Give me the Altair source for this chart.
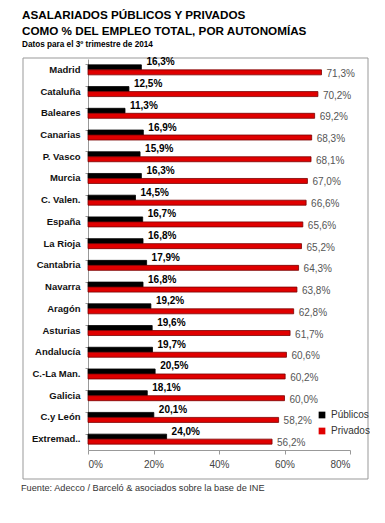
import altair as alt
import pandas as pd

regiones = ["Madrid", "Cataluña", "Baleares", "Canarias", "P. Vasco", "Murcia",
            "C. Valen.", "España", "La Rioja", "Cantabria", "Navarra", "Aragón",
            "Asturias", "Andalucía", "C.-La Man.", "Galicia", "C.y León", "Extremad.."]
publicos = [16.3, 12.5, 11.3, 16.9, 15.9, 16.3, 14.5, 16.7, 16.8, 17.9, 16.8, 19.2,
            19.6, 19.7, 20.5, 18.1, 20.1, 24.0]
privados = [71.3, 70.2, 69.2, 68.3, 68.1, 67.0, 66.6, 65.6, 65.2, 64.3, 63.8, 62.8,
            61.7, 60.6, 60.2, 60.0, 58.2, 56.2]
series = ["Públicos", "Privados"]
x_ticks = [0, 20, 40, 60, 80]

titulo = ["ASALARIADOS PÚBLICOS Y PRIVADOS", "COMO % DEL EMPLEO TOTAL, POR AUTONOMÍAS"]
subtitulo = "Datos para el 3º trimestre de 2014"
fuente = "Fuente: Adecco / Barceló & asociados sobre la base de INE"


def fmt(v):
    return f"{v:.1f}".replace(".", ",") + "%"


rows = []
for r, p, q in zip(regiones, publicos, privados):
    rows.append({"region": r, "serie": "Públicos", "valor": p, "label": fmt(p)})
    rows.append({"region": r, "serie": "Privados", "valor": q, "label": fmt(q)})
df = pd.DataFrame(rows)

FONT = "Liberation Sans"

x_enc = alt.X("valor:Q", scale=alt.Scale(domain=[0, 80]),
              axis=alt.Axis(values=x_ticks, labelExpr="datum.value + '%'", grid=False, title=None,
                            labelFont=FONT, labelFontSize=10, labelColor="#444",
                            domainColor="#999", tickColor="#999", tickSize=4, labelPadding=5))
y_enc = alt.Y("region:N", sort=regiones, title=None,
              scale=alt.Scale(paddingInner=0.54, paddingOuter=0.27),
              axis=alt.Axis(labelFont=FONT, labelFontWeight="bold", labelFontSize=9.5,
                            labelColor="#111", labelPadding=5, domainColor="#999",
                            tickColor="#999", tickSize=3, bandPosition=0))

base = alt.Chart(df)

bars = base.mark_bar(strokeWidth=0.8).encode(
    x=x_enc,
    y=y_enc,
    yOffset=alt.YOffset("serie:N", sort=series, scale=alt.Scale(paddingInner=0, paddingOuter=0)),
    color=alt.Color("serie:N", scale=alt.Scale(domain=series, range=["#000000", "#e00000"]),
                    legend=alt.Legend(title=None, orient="none", legendX=229, legendY=351,
                                      symbolType="square", symbolSize=45, labelFont=FONT,
                                      labelFontSize=10, labelColor="#333", rowPadding=6,
                                      symbolStrokeWidth=0)),
    stroke=alt.Stroke("serie:N", scale=alt.Scale(domain=series, range=["#000000", "#7a0000"]),
                      legend=None),
)

pub_text = base.transform_filter(alt.datum.serie == "Públicos").mark_text(
    align="left", baseline="middle", dx=5, dy=-7.5, font=FONT, fontSize=10,
    fontWeight="bold", color="#000"
).encode(x="valor:Q", y=alt.Y("region:N", sort=regiones), text="label:N")

priv_text = base.transform_filter(alt.datum.serie == "Privados").mark_text(
    align="left", baseline="middle", dx=5, dy=4, font=FONT, fontSize=10, color="#555"
).encode(x="valor:Q", y=alt.Y("region:N", sort=regiones), text="label:N")

box = alt.Chart(pd.DataFrame({"k": [0]})).mark_rect(
    fill=None, stroke="#999", strokeWidth=1
).encode(x=alt.value(-65), x2=alt.value(280), y=alt.value(-1), y2=alt.value(420))

foot = alt.Chart(pd.DataFrame({"t": [fuente]})).mark_text(
    align="left", baseline="middle", font=FONT, fontSize=9.2, color="#333"
).encode(x=alt.value(-67), y=alt.value(429), text="t:N")

chart = alt.layer(box, bars, pub_text, priv_text, foot).properties(
    width=262, height=391,
    autosize=alt.AutoSizeParams(type="none"),
    padding={"left": 80, "top": 51, "right": 20, "bottom": 50},
    title=alt.Title(titulo, subtitle=subtitulo, anchor="start", frame="group", dx=-66,
                    font=FONT, fontSize=11.7, fontWeight="bold", color="#000",
                    lineHeight=16, subtitleFont=FONT, subtitleFontSize=8.2,
                    subtitleFontWeight="bold", subtitleColor="#000", subtitlePadding=3,
                    offset=9),
).configure_view(stroke=None)

chart.save("out.html", embed_options={"renderer": "svg", "actions": False})
